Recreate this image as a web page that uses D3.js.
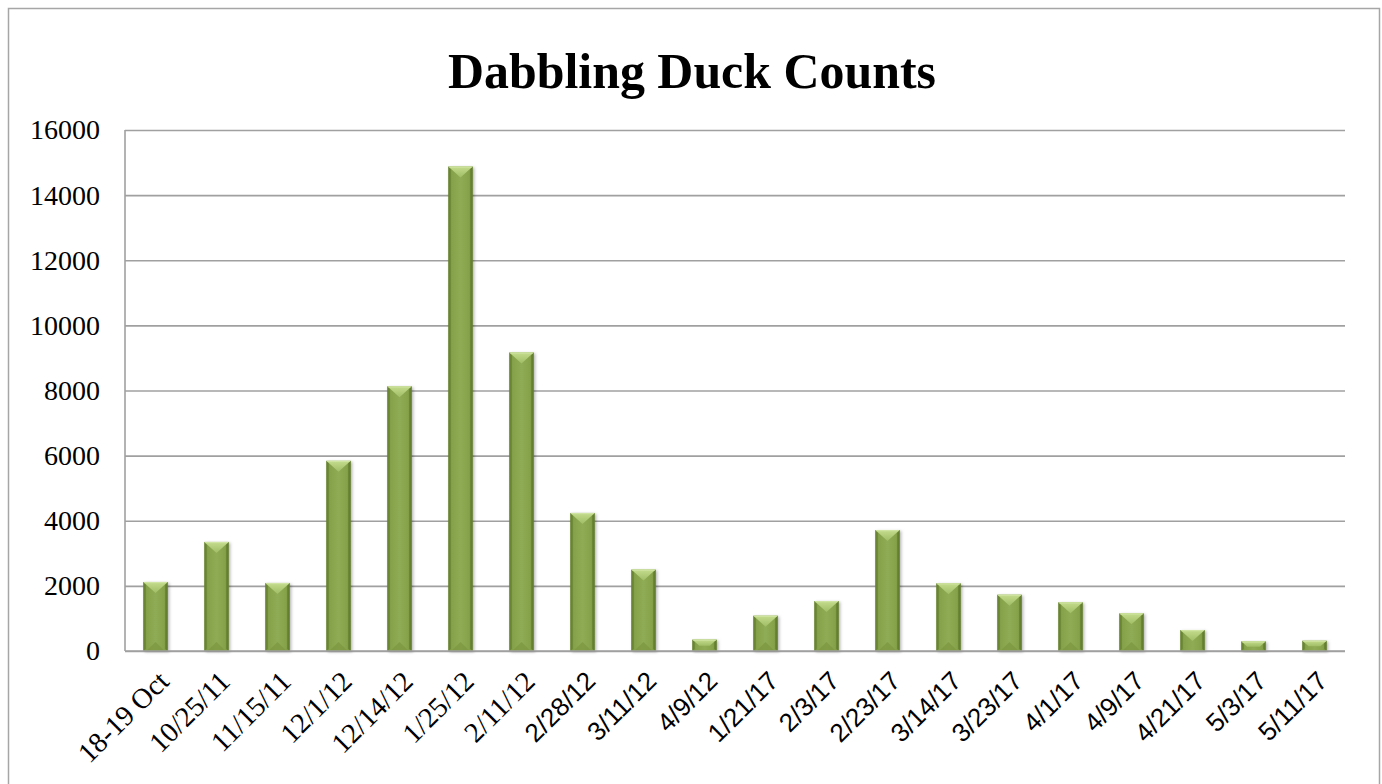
<!DOCTYPE html>
<html>
<head>
<meta charset="utf-8">
<script src="https://cdn.jsdelivr.net/npm/d3@7"></script>
<style>
  html, body { margin: 0; padding: 0; background: #fff; }
  svg { display: block; }
</style>
</head>
<body>
<svg id="chart" width="1382" height="784"></svg>
<script>
const categories = ["18-19 Oct", "10/25/11", "11/15/11", "12/1/12", "12/14/12", "1/25/12", "2/11/12",
  "2/28/12", "3/11/12", "4/9/12", "1/21/17", "2/3/17", "2/23/17", "3/14/17", "3/23/17",
  "4/1/17", "4/9/17", "4/21/17", "5/3/17", "5/11/17"];
const counts = [2120, 3350, 2090, 5840, 8130, 14880, 9170, 4240, 2500, 350, 1085, 1535, 3716,
  2080, 1730, 1496, 1157, 645, 297, 317];
const yTicks = [0, 2000, 4000, 6000, 8000, 10000, 12000, 14000, 16000];
const titleText = "Dabbling Duck Counts";
const serifLabelCount = 7; // first labels drawn in serif, the rest in sans

const svg = d3.select("#chart");
const plot = { left: 125, right: 1345, top: 130, bottom: 651 };

const defs = svg.append("defs");
const grad = defs.append("linearGradient").attr("id", "barGrad")
  .attr("x1", "0").attr("x2", "1").attr("y1", "0").attr("y2", "0");
grad.append("stop").attr("offset", "0").attr("stop-color", "#6f8b38");
grad.append("stop").attr("offset", "0.15").attr("stop-color", "#86a24a");
grad.append("stop").attr("offset", "0.5").attr("stop-color", "#8fac55");
grad.append("stop").attr("offset", "0.85").attr("stop-color", "#86a24a");
grad.append("stop").attr("offset", "1").attr("stop-color", "#6a8534");

const topGrad = defs.append("linearGradient").attr("id", "topGrad")
  .attr("x1", "0").attr("x2", "0").attr("y1", "0").attr("y2", "1");
topGrad.append("stop").attr("offset", "0").attr("stop-color", "#c3dc8e");
topGrad.append("stop").attr("offset", "1").attr("stop-color", "#a1bd65");

const shadow = defs.append("filter").attr("id", "shadow")
  .attr("x", "-30%").attr("y", "-10%").attr("width", "160%").attr("height", "130%");
shadow.append("feDropShadow").attr("dx", 1.5).attr("dy", 1).attr("stdDeviation", 1.6)
  .attr("flood-color", "#000").attr("flood-opacity", 0.3);

// outer border
svg.append("rect").attr("x", 8.5).attr("y", 8.5).attr("width", 1371).attr("height", 790)
  .attr("fill", "#fff").attr("stroke", "#a6a6a6").attr("stroke-width", 1.5);

// title
const title = svg.append("text").attr("x", 692).attr("y", 88)
  .attr("text-anchor", "middle")
  .attr("font-family", "'Liberation Serif', 'DejaVu Serif', serif")
  .attr("font-weight", "bold").attr("font-size", 100).attr("fill", "#000")
  .text(titleText);
const tw = title.node().getComputedTextLength();
title.attr("font-size", 100 * 488 / tw);

const x = d3.scaleBand().domain(categories).range([plot.left, plot.right])
  .paddingInner(0.6).paddingOuter(0.3);
const y = d3.scaleLinear().domain([0, 16000]).range([plot.bottom, plot.top]);

// grid lines via axis
const grid = svg.append("g").attr("transform", `translate(${plot.left},0)`)
  .call(d3.axisRight(y).tickValues(yTicks).tickSize(plot.right - plot.left).tickFormat(""));
grid.select(".domain").remove();
grid.selectAll(".tick line").attr("stroke", "#a0a0a0").attr("stroke-width", 1.6);

// left axis line
svg.append("line").attr("x1", plot.left).attr("x2", plot.left)
  .attr("y1", plot.top).attr("y2", plot.bottom)
  .attr("stroke", "#a0a0a0").attr("stroke-width", 1.6);

// y labels
const yAxis = svg.append("g").attr("transform", `translate(${plot.left},0)`)
  .call(d3.axisLeft(y).tickValues(yTicks).tickSize(0).tickPadding(25).tickFormat(d3.format("d")));
yAxis.select(".domain").remove();
yAxis.selectAll("text")
  .attr("font-family", "'Liberation Serif', 'DejaVu Serif', serif")
  .attr("font-size", 28).attr("fill", "#000");

// bars
const bw = x.bandwidth();
const bars = svg.append("g").selectAll("g.bar").data(categories.map((c, i) => ({ c, v: counts[i] })))
  .join("g").attr("class", "bar");

bars.append("rect")
  .attr("x", d => x(d.c)).attr("y", d => y(d.v))
  .attr("width", bw).attr("height", d => y(0) - y(d.v))
  .attr("fill", "url(#barGrad)").attr("filter", "url(#shadow)");

// side bevel darker strips
const bev = 2.5;
bars.append("path").attr("fill", "#5f7a2c").attr("opacity", 0.55)
  .attr("d", d => {
    const x0 = x(d.c), y0 = y(d.v), y1 = y(0);
    return `M${x0},${y0}L${x0 + bev},${y0 + bev}L${x0 + bev},${y1 - bev}L${x0},${y1}Z`;
  });
bars.append("path").attr("fill", "#5a742a").attr("opacity", 0.6)
  .attr("d", d => {
    const x1 = x(d.c) + bw, y0 = y(d.v), y1 = y(0);
    return `M${x1},${y0}L${x1 - bev},${y0 + bev}L${x1 - bev},${y1 - bev}L${x1},${y1}Z`;
  });

// top bevel highlight (triangle)
bars.append("path").attr("fill", "url(#topGrad)")
  .attr("d", d => {
    const x0 = x(d.c), x1 = x0 + bw, y0 = y(d.v), h = y(0) - y0;
    const depth = Math.min(11, h * 0.55);
    const half = bw / 2;
    const inset = half * depth / 11;
    return `M${x0},${y0}L${x1},${y0}L${x1 - inset},${y0 + depth}L${x0 + inset},${y0 + depth}Z`;
  });
bars.append("rect").attr("fill", "#d2e6a6").attr("opacity", 0.8)
  .attr("x", d => x(d.c) + 1).attr("y", d => y(d.v))
  .attr("width", bw - 2).attr("height", 1.2);

// bottom subtle triangle
bars.append("path").attr("fill", "#7a963f").attr("opacity", 0.7)
  .attr("d", d => {
    const x0 = x(d.c), x1 = x0 + bw, y1 = y(0), h = y1 - y(d.v);
    if (h < 24) return "";
    return `M${x0 + 3},${y1}L${x1 - 3},${y1}L${x0 + bw / 2},${y1 - 9}Z`;
  });

// x axis baseline
svg.append("line").attr("x1", plot.left).attr("x2", plot.right)
  .attr("y1", plot.bottom).attr("y2", plot.bottom)
  .attr("stroke", "#a0a0a0").attr("stroke-width", 1.6);

// x labels
const xAxis = svg.append("g").attr("transform", `translate(0,${plot.bottom})`)
  .call(d3.axisBottom(x).tickSize(0).tickPadding(0));
xAxis.select(".domain").remove();
xAxis.selectAll(".tick text")
  .attr("text-anchor", "end")
  .attr("dy", "0.35em")
  .attr("transform", "translate(8,25) rotate(-45)")
  .attr("fill", "#000")
  .attr("font-size", (d, i) => i < serifLabelCount ? 28.5 : 26)
  .attr("font-family", (d, i) => i < serifLabelCount
    ? "'Liberation Serif', 'DejaVu Serif', serif"
    : "'Liberation Sans', Arial, sans-serif");
</script>
</body>
</html>
